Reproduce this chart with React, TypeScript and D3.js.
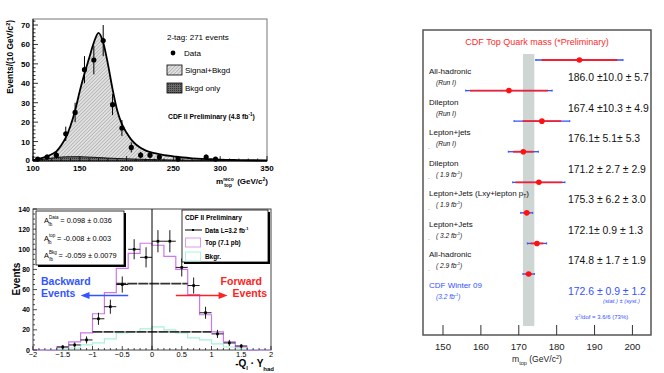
import * as d3 from 'd3';

const FONT = '"Liberation Sans", Arial, Helvetica, sans-serif';

// ---- top left: reconstructed top mass, 2-tag ----
const mrecoBins = [105, 115, 125, 135, 145, 155, 165, 175, 185, 195, 205, 215, 225, 235, 255, 285, 295];
const mrecoCounts = [1, 2, 3, 14, 25, 47, 52, 62, 29, 17, 7, 3, 3, 2, 1, 2, 1];
const mrecoErrors = [1, 1.4, 1.7, 3.7, 5, 7, 7.4, 8, 5.4, 4.1, 2.6, 1.7, 1.7, 1.4, 1, 1.4, 1];
const fitMass = [100, 105, 110, 115, 120, 125, 130, 135, 140, 145, 150, 155, 160, 165, 170, 175, 180, 185, 190, 195, 200, 205, 210, 220, 230, 240, 250, 260, 270, 280, 290, 300, 320, 350];
const fitSignal = [0.5, 1, 1.6, 2.4, 3.5, 5, 8, 12, 18, 26, 36, 45, 53, 61, 66, 61, 50, 37, 26, 19, 14.5, 11, 8.5, 5.5, 4, 3, 2.4, 1.8, 1.4, 1.1, 0.9, 0.7, 0.5, 0.3];
const bkgMass = [100, 110, 120, 130, 140, 150, 160, 170, 180, 190, 200, 220, 250, 300, 350];
const bkgShape = [0.3, 0.8, 1.5, 2, 2.2, 2.2, 2, 1.8, 1.5, 1.3, 1.1, 0.8, 0.5, 0.3, 0.1];

// ---- bottom left: forward-backward asymmetry ----
const qyCenters = [-1.5, -1.3, -1.1, -0.9, -0.7, -0.5, -0.3, -0.1, 0.1, 0.3, 0.5, 0.7, 0.9, 1.1, 1.3, 1.5];
const qyCounts = [3, 5, 10, 31, 43, 65, 100, 92, 108, 108, 82, 64, 37, 16, 7, 4];
const qyErrors = [2, 2.5, 3.5, 6, 7, 8, 10, 10, 11, 11, 9, 8, 6, 4, 3, 2];
const histEdges = [-2, -1.8, -1.6, -1.4, -1.2, -1, -0.8, -0.6, -0.4, -0.2, 0, 0.2, 0.4, 0.6, 0.8, 1, 1.2, 1.4, 1.6, 1.8, 2];
const topHist = [0, 0, 3, 8, 17, 36, 57, 81, 96, 106, 104, 93, 80, 55, 35, 18, 8, 3, 0, 0];
const bkgHist = [0, 0.5, 1, 2, 5, 7, 11, 17, 18, 21, 23, 20, 17, 12, 10, 6, 3, 1, 0.5, 0];
const avgLines = [
  { from: -0.6, to: 0.6, value: 66 },
  { from: -1, to: 1, value: 18 },
];
const afbLabels = [
  { sup: 'Data', text: '= 0.098 ± 0.036' },
  { sup: 'top', text: '= -0.008 ± 0.003' },
  { sup: 'Bkg', text: '= -0.059 ± 0.0079' },
];

// ---- right: CDF top mass summary ----
const measNames = ['All-hadronic', 'Dilepton', 'Lepton+jets', 'Dilepton', 'Lepton+Jets (Lxy+lepton p', 'Lepton+Jets', 'All-hadronic', 'CDF Winter 09'];
const measLumi = ['(Run I)', '(Run I)', '(Run I)', '( 1.9 fb', '( 1.9 fb', '( 3.2 fb', '( 2.9 fb', '(3.2 fb'];
const measValue = [186.0, 167.4, 176.1, 171.2, 175.3, 172.1, 174.8, 172.6];
const measStat = [10.0, 10.3, 5.1, 2.7, 6.2, 0.9, 1.7, 0.9];
const measSyst = [5.7, 4.9, 5.3, 2.9, 3.0, 1.3, 1.9, 1.2];
const measText = ['186.0 ±10.0 ± 5.7', '167.4 ±10.3 ± 4.9', '176.1± 5.1± 5.3', '171.2 ± 2.7 ± 2.9', '175.3 ± 6.2 ± 3.0', '172.1± 0.9 ± 1.3', '174.8 ± 1.7 ± 1.9', '172.6 ± 0.9 ± 1.2'];
const massTicks = [150, 160, 170, 180, 190, 200];

const RED = '#ee2233';
const BLUE = '#3350ff';

function MassPanel() {
  const x = d3.scaleLinear().domain([100, 350]).range([33, 267]);
  const y = d3.scaleLinear().domain([0, 73.1]).range([161, 19]);
  const area = d3.area<[number, number]>()
    .x(d => x(d[0])).y0(y(0)).y1(d => y(d[1]))
    .curve(d3.curveMonotoneX);
  const line = d3.line<[number, number]>()
    .x(d => x(d[0])).y(d => y(d[1]))
    .curve(d3.curveMonotoneX);
  const sig = fitMass.map((m, i) => [m, fitSignal[i]] as [number, number]);
  const bkg = bkgMass.map((m, i) => [m, bkgShape[i]] as [number, number]);

  return (
    <g fontFamily={FONT}>
      <rect x={33} y={19} width={234} height={142} fill="white" stroke="#777" strokeWidth={1} />
      <path d={area(sig) || ''} fill="url(#hatchLight)" />
      <path d={area(bkg) || ''} fill="url(#hatchDark)" />
      <path d={line(bkg) || ''} fill="none" stroke="#111" strokeWidth={1} />
      <path d={line(sig) || ''} fill="none" stroke="#000" strokeWidth={1.8} />
      {mrecoBins.map((m, i) => (
        <g key={i}>
          <line x1={x(m)} x2={x(m)} y1={y(mrecoCounts[i] - mrecoErrors[i])} y2={y(mrecoCounts[i] + mrecoErrors[i])} stroke="#000" strokeWidth={1} />
          <circle cx={x(m)} cy={y(mrecoCounts[i])} r={2.6} fill="#000" />
        </g>
      ))}
      <line x1={33} x2={267} y1={161} y2={161} stroke="#000" />
      <line x1={33} x2={33} y1={19} y2={161} stroke="#000" />
      {d3.range(100, 351, 10).map(v => (
        <line key={'xm' + v} x1={x(v)} x2={x(v)} y1={161} y2={v % 50 === 0 ? 156 : 158.5} stroke="#000" strokeWidth={0.8} />
      ))}
      {d3.range(0, 73, 2).map(v => (
        <line key={'ym' + v} x1={33} x2={v % 10 === 0 ? 38 : 35.5} y1={y(v)} y2={y(v)} stroke="#000" strokeWidth={0.8} />
      ))}
      {x.ticks(5).map(v => (
        <text key={'xl' + v} x={x(v)} y={171} fontSize={8} fontWeight="bold" textAnchor="middle">{v}</text>
      ))}
      {d3.range(0, 71, 10).map(v => (
        <text key={'yl' + v} x={30} y={y(v) + (v === 0 ? 2 : 3)} fontSize={8} fontWeight="bold" textAnchor="end">{v}</text>
      ))}
      <text transform="translate(13,20) rotate(-90)" fontSize={8.4} fontWeight="bold" textAnchor="end">
        Events/(10 GeV/c<tspan dy={-3} fontSize={5.5}>2</tspan><tspan dy={3}>)</tspan>
      </text>
      <text x={268} y={184} fontSize={8} fontWeight="bold" textAnchor="end">
        m<tspan dy={-3} fontSize={5}>reco</tspan><tspan dx={-9.5} dy={5.5} fontSize={5}>top</tspan><tspan dx={3} dy={-2.5}> (GeV/c</tspan><tspan dy={-3} fontSize={5}>2</tspan><tspan dy={3}>)</tspan>
      </text>
      <text x={167} y={40} fontSize={8}>2-tag: 271 events</text>
      <circle cx={173} cy={53} r={2.4} fill="#000" />
      <text x={184} y={56} fontSize={8}>Data</text>
      <rect x={167} y={65} width={15} height={10} fill="url(#hatchLight)" stroke="#000" strokeWidth={0.8} />
      <text x={185} y={73} fontSize={8}>Signal+Bkgd</text>
      <rect x={167} y={83} width={15} height={10} fill="url(#hatchDark)" stroke="#000" strokeWidth={0.8} />
      <text x={185} y={91} fontSize={8}>Bkgd only</text>
      <text x={168} y={119} fontSize={6.8} fontWeight="bold">
        CDF II Preliminary (4.8 fb<tspan dy={-3} fontSize={4.5}>-1</tspan><tspan dy={3}>)</tspan>
      </text>
    </g>
  );
}

function AfbPanel() {
  const x = d3.scaleLinear().domain([-2, 2]).range([33, 271]);
  const y = d3.scaleLinear().domain([0, 140]).range([350, 209]);
  const step = d3.line<[number, number]>().x(d => x(d[0])).y(d => y(d[1])).curve(d3.curveStepAfter);
  const toPts = (vals: number[]) => {
    const pts = vals.map((v, i) => [histEdges[i], v] as [number, number]);
    pts.push([histEdges[histEdges.length - 1], vals[vals.length - 1]]);
    return pts;
  };
  const hw = x(0.1) - x(0);

  return (
    <g fontFamily={FONT}>
      <rect x={33} y={209} width={238} height={141} fill="white" stroke="#444" strokeWidth={1} />
      <path d={step(toPts(bkgHist)) || ''} fill="none" stroke="#a8f0dc" strokeWidth={1.2} />
      <path d={step(toPts(topHist)) || ''} fill="none" stroke="#cc77ee" strokeWidth={1.2} />
      {avgLines.map((l, i) => (
        <line key={i} x1={x(l.from)} x2={x(l.to)} y1={y(l.value)} y2={y(l.value)} stroke="#333" strokeWidth={1.8} strokeDasharray="10,1" />
      ))}
      <line x1={x(0)} x2={x(0)} y1={209} y2={350} stroke="#000" strokeWidth={1} />
      {qyCenters.map((c, i) => (
        <g key={i} stroke="#000" strokeWidth={0.9}>
          <line x1={x(c) - hw} x2={x(c) + hw} y1={y(qyCounts[i])} y2={y(qyCounts[i])} />
          <line x1={x(c)} x2={x(c)} y1={y(qyCounts[i] - qyErrors[i])} y2={y(qyCounts[i] + qyErrors[i])} />
          <rect x={x(c) - 1.3} y={y(qyCounts[i]) - 1.3} width={2.6} height={2.6} fill="#000" stroke="none" />
        </g>
      ))}
      {d3.range(-2, 2.001, 0.1).map(v => {
        const major = Math.abs(v * 2 - Math.round(v * 2)) < 1e-6;
        return <line key={'xt' + v.toFixed(1)} x1={x(v)} x2={x(v)} y1={350} y2={major ? 346 : 348} stroke="#000" strokeWidth={0.7} />;
      })}
      {d3.range(0, 141, 5).map(v => (
        <line key={'yt' + v} x1={33} x2={v % 20 === 0 ? 37 : 35} y1={y(v)} y2={y(v)} stroke="#000" strokeWidth={0.7} />
      ))}
      {d3.range(-2, 2.01, 0.5).map(v => (
        <text key={'xl' + v} x={x(v)} y={357} fontSize={7.5} textAnchor="middle">{d3.format('')(+v.toFixed(1))}</text>
      ))}
      {d3.range(0, 141, 20).map(v => (
        <text key={'yl' + v} x={30} y={y(v) + 2.5} fontSize={7} fontWeight="bold" textAnchor="end">{v}</text>
      ))}
      <text transform="translate(20,279) rotate(-90)" fontSize={10} fontWeight="bold" textAnchor="middle">Events</text>
      <text x={274} y={367} fontSize={10} fontWeight="bold" textAnchor="end">
        -Q<tspan dy={3} fontSize={6}>l</tspan><tspan dy={-3}> · Y</tspan><tspan dy={4} fontSize={6}>had</tspan>
      </text>

      {/* A_fb box */}
      <rect x={38} y={213} width={88} height={54} fill="#000" />
      <rect x={36} y={211} width={88} height={54} fill="white" stroke="#000" strokeWidth={0.8} />
      {afbLabels.map((a, i) => (
        <text key={i} x={44} y={223 + i * 17.5} fontSize={7.4}>
          A<tspan dx={0} dy={-4} fontSize={4.5}>{a.sup}</tspan>
          <tspan dx={-(a.sup.length * 2.5)} dy={7} fontSize={4.5}>fb</tspan>
          <tspan dx={a.sup.length * 2.5 - 4} dy={-3}> {a.text}</tspan>
        </text>
      ))}

      {/* legend box */}
      <rect x={184} y={212} width={86} height={52} fill="#000" />
      <rect x={182} y={210} width={86} height={52} fill="white" stroke="#000" strokeWidth={0.8} />
      <text x={185} y={220} fontSize={6.6} fontWeight="bold">CDF II Preliminary</text>
      <line x1={185} x2={202} y1={230} y2={230} stroke="#000" strokeWidth={1} />
      <rect x={192} y={229} width={2} height={2} fill="#000" />
      <text x={205} y={232.5} fontSize={6.4} fontWeight="bold">
        Data  L=3.2 fb<tspan dy={-3} fontSize={4}>-1</tspan>
      </text>
      <rect x={185.5} y={238} width={15} height={9} fill="none" stroke="#dd99ee" strokeWidth={1} />
      <text x={205} y={245} fontSize={6.4} fontWeight="bold">Top (7.1 pb)</text>
      <rect x={185.5} y={252} width={15} height={9} fill="none" stroke="#b0f2e0" strokeWidth={1} />
      <text x={205} y={259} fontSize={6.4} fontWeight="bold">Bkgr.</text>

      {/* arrows */}
      <text x={41} y={285} fontSize={10.5} fontWeight="bold" fill="#3355ff">Backward</text>
      <text x={41} y={297} fontSize={10.5} fontWeight="bold" fill="#3355ff">Events</text>
      <line x1={x(-0.4)} x2={x(-1.1)} y1={y(54)} y2={y(54)} stroke="#3355ff" strokeWidth={1.5} />
      <path d={`M${x(-1.2)},${y(54)} L${x(-1.05)},${y(54) - 3.5} L${x(-1.05)},${y(54) + 3.5} Z`} fill="#3355ff" />
      <text x={262} y={285} fontSize={10.5} fontWeight="bold" fill="#ff2222" textAnchor="end">Forward</text>
      <text x={267} y={297} fontSize={10.5} fontWeight="bold" fill="#ff2222" textAnchor="end">Events</text>
      <line x1={x(0.4)} x2={x(1.15)} y1={y(54)} y2={y(54)} stroke="#ff2222" strokeWidth={1.5} />
      <path d={`M${x(1.27)},${y(54)} L${x(1.12)},${y(54) - 3.5} L${x(1.12)},${y(54) + 3.5} Z`} fill="#ff2222" />
    </g>
  );
}

function SummaryPanel() {
  const x = d3.scaleLinear().domain([144.72, 204.9]).range([423, 651]);
  const rowY = d3.scaleLinear().domain([0, 7]).range([60, 274]);
  const last = measNames.length - 1;

  return (
    <g fontFamily={FONT}>
      <rect x={423} y={30} width={228} height={305} fill="white" stroke="#555" strokeWidth={1.5} />
      <text x={537} y={45} fontSize={9} fill="#ff2a2a" textAnchor="middle">CDF Top Quark mass (*Preliminary)</text>
      <rect x={x(171.1)} y={54} width={x(174.1) - x(171.1)} height={272} fill="#cdd6d3" />
      {measValue.map((v, i) => {
        const cy = rowY(i);
        const tot = Math.sqrt(measStat[i] ** 2 + measSyst[i] ** 2);
        const txtCol = i === last ? BLUE : '#111';
        return (
          <g key={i}>
            <line x1={x(v - tot)} x2={x(v + tot)} y1={cy} y2={cy} stroke={BLUE} strokeWidth={1.3} />
            <line x1={x(v - tot)} x2={x(v - tot)} y1={cy - 1} y2={cy + 1} stroke={BLUE} strokeWidth={1} />
            <line x1={x(v + tot)} x2={x(v + tot)} y1={cy - 1} y2={cy + 1} stroke={BLUE} strokeWidth={1} />
            <line x1={x(v - measStat[i])} x2={x(v + measStat[i])} y1={cy} y2={cy} stroke={RED} strokeWidth={1.8} />
            <circle cx={x(v)} cy={cy} r={2.8} fill="#ff1111" />
            {i >= 3 && <text x={428} y={cy - 3} fontSize={6} fill={txtCol}>.</text>}
            <text x={429} y={cy + 14} fontSize={8} fill={txtCol}>
              {measNames[i]}
              {i === 4 && <><tspan dy={2} fontSize={5}>T</tspan><tspan dy={-2}>)</tspan></>}
            </text>
            <text x={436} y={cy + 25} fontSize={6.6} fontStyle="italic" fill={txtCol}>
              {measLumi[i]}
              {i >= 3 && <><tspan dy={-3} fontSize={4}>-1</tspan><tspan dy={3}>)</tspan></>}
            </text>
            <text x={568} y={cy + 21} fontSize={10.4} fill={txtCol}>{measText[i]}</text>
          </g>
        );
      })}
      <text x={603} y={302.5} fontSize={5.8} fontStyle="italic" fill={BLUE}>(stat.) ±  (syst.)</text>
      <text x={575} y={319} fontSize={6} fill={BLUE}>
        χ<tspan dy={-2.5} fontSize={4}>2</tspan><tspan dy={2.5}>/dof = 3.6/6 (73%)</tspan>
      </text>
      {massTicks.map(t => (
        <g key={t}>
          <line x1={x(t)} x2={x(t)} y1={335} y2={325} stroke="#333" strokeWidth={1} />
          <text x={x(t)} y={350} fontSize={9.6} textAnchor="middle" fill="#222">{t}</text>
        </g>
      ))}
      <text x={537} y={362} fontSize={8.6} textAnchor="middle" fill="#222">
        m<tspan dy={2.5} fontSize={5.5}>top</tspan><tspan dy={-2.5}> (GeV/c</tspan><tspan dy={-3} fontSize={5.5}>2</tspan><tspan dy={3}>)</tspan>
      </text>
    </g>
  );
}

export default function App() {
  return (
    <div style={{ position: 'fixed', left: 0, top: 0, width: 664, height: 373, background: 'white' }}>
      <svg width={664} height={373} viewBox="0 0 664 373">
        <defs>
          <pattern id="hatchLight" patternUnits="userSpaceOnUse" width={2.5} height={2.5} patternTransform="rotate(45)">
            <rect width={2.5} height={2.5} fill="#e2e2e2" />
            <line x1={0} y1={0} x2={0} y2={2.5} stroke="#8a8a8a" strokeWidth={0.9} />
          </pattern>
          <pattern id="hatchDark" patternUnits="userSpaceOnUse" width={2} height={2}>
            <rect width={2} height={2} fill="#6a6a6a" />
            <rect width={1} height={1} fill="#333" />
          </pattern>
        </defs>
        <MassPanel />
        <AfbPanel />
        <SummaryPanel />
      </svg>
    </div>
  );
}
